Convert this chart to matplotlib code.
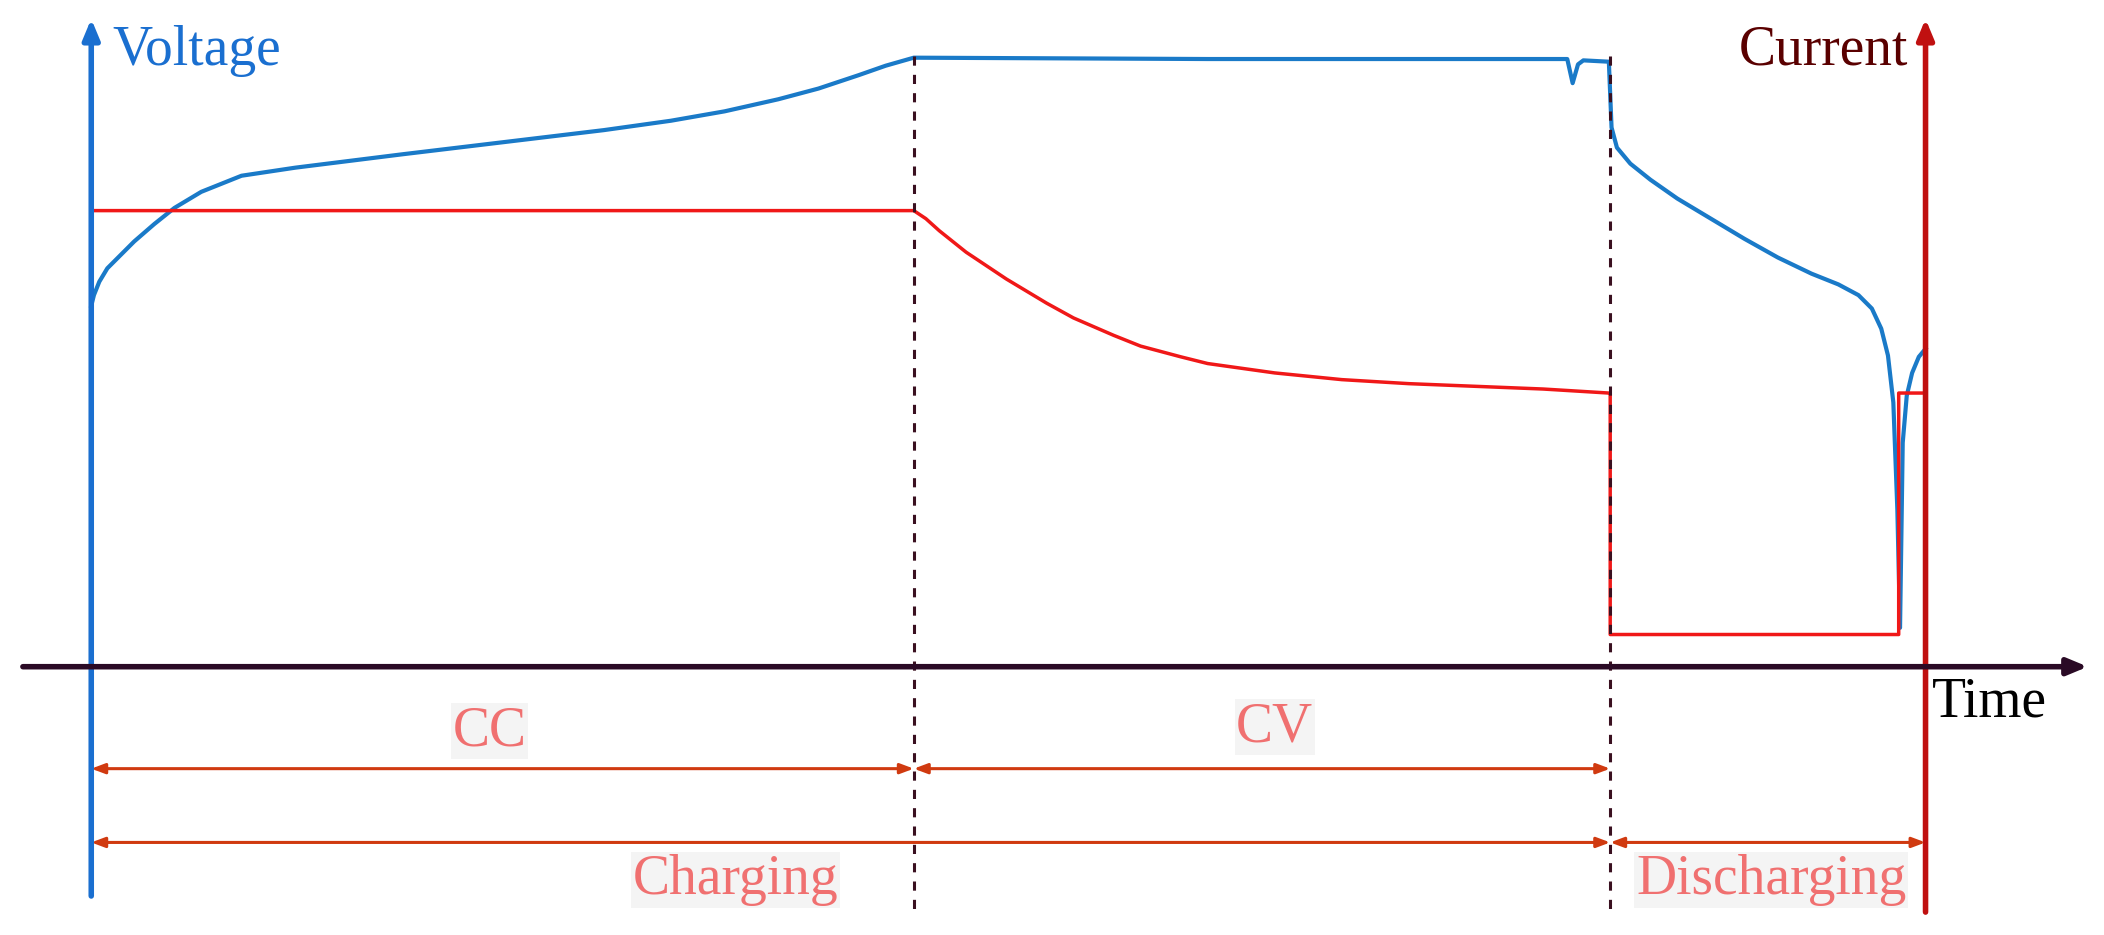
import matplotlib
matplotlib.use('Agg')
import matplotlib.pyplot as plt

# coordinates in reference-image units (x right, y down)
volt_t = [68, 70, 74, 80, 90, 100, 115, 130, 150, 180, 220, 300, 400, 450, 500, 540, 580, 610, 640, 660, 681,
          900, 1168, 1172, 1176, 1180, 1199,
          1201, 1205, 1215, 1230, 1250, 1275, 1300, 1325, 1350, 1370, 1385, 1395, 1402, 1407, 1411, 1414, 1416,
          1418, 1421, 1425, 1430, 1435]
volt_v = [228, 220, 210, 200, 190, 180, 167, 155, 143, 131, 125, 115, 103, 97, 90, 83, 74, 66, 56, 49, 43,
          44, 44, 62, 48, 45, 46,
          95, 110, 122, 134, 148, 163, 178, 192, 204, 212, 220, 230, 245, 265, 300, 380, 468,
          330, 295, 278, 266, 260]

curr_t = [68, 681, 690, 700, 720, 750, 780, 800, 830, 850, 880, 900, 950, 1000, 1050, 1100, 1150, 1199,
          1200, 1200, 1415, 1415, 1435]
curr_v = [157, 157, 163, 172, 188, 208, 226, 237, 250, 258, 266, 271, 278, 283, 286, 288, 290, 293,
          293, 473, 473, 293, 293]

phase_x = [681, 1200]

fig = plt.figure(figsize=(21.04, 9.35), dpi=100)
ax = fig.add_axes([0, 0, 1, 1])
ax.set_xlim(0, 1568)
ax.set_ylim(697, 0)
ax.axis('off')
serif = 'Liberation Serif'
fs = 40

ax.plot(volt_t, volt_v, color='#1a7ac8', lw=3)
ax.plot(curr_t, curr_v, color='#f01818', lw=2.5)

for x in phase_x:
    ax.plot([x, x], [42, 680], color='#3a1020', lw=2.2, ls=(0, (3, 3)))

# axes arrows
ax.annotate('', xy=(68, 12), xytext=(68, 670),
            arrowprops=dict(arrowstyle='-|>,head_length=1.2,head_width=0.5', color='#1a6fd0', lw=4))
ax.annotate('', xy=(1435, 12), xytext=(1435, 682),
            arrowprops=dict(arrowstyle='-|>,head_length=1.2,head_width=0.5', color='#c01010', lw=4))
ax.annotate('', xy=(1558, 497), xytext=(15, 497),
            arrowprops=dict(arrowstyle='-|>,head_length=1.2,head_width=0.5', color='#2a0a25', lw=4))

ax.text(84, 38, 'Voltage', color='#1a6fd0', fontsize=fs, family=serif, va='center')
ax.text(1422, 38, 'Current', color='#5a0000', fontsize=fs, family=serif, va='center', ha='right')
ax.text(1440, 524, 'Time', color='black', fontsize=fs, family=serif, va='center')

arrow_col = '#d03a10'
spans = [(68, 681, 573, 'CC', 365, 545), (681, 1200, 573, 'CV', 950, 542),
         (68, 1200, 628, 'Charging', 548, 656), (1200, 1435, 628, 'Discharging', 1320, 656)]
for x0, x1, y, label, tx, ty in spans:
    ax.annotate('', xy=(x1, y), xytext=(x0, y),
                arrowprops=dict(arrowstyle='<|-|>,head_length=0.8,head_width=0.3',
                                color=arrow_col, lw=2.2, shrinkA=0, shrinkB=0))
    ax.text(tx, ty, label, color='#f07070', fontsize=fs, family=serif,
            ha='center', va='center',
            bbox=dict(facecolor='#f4f4f4', edgecolor='none', pad=1))

fig.savefig('out.png', dpi=100)
